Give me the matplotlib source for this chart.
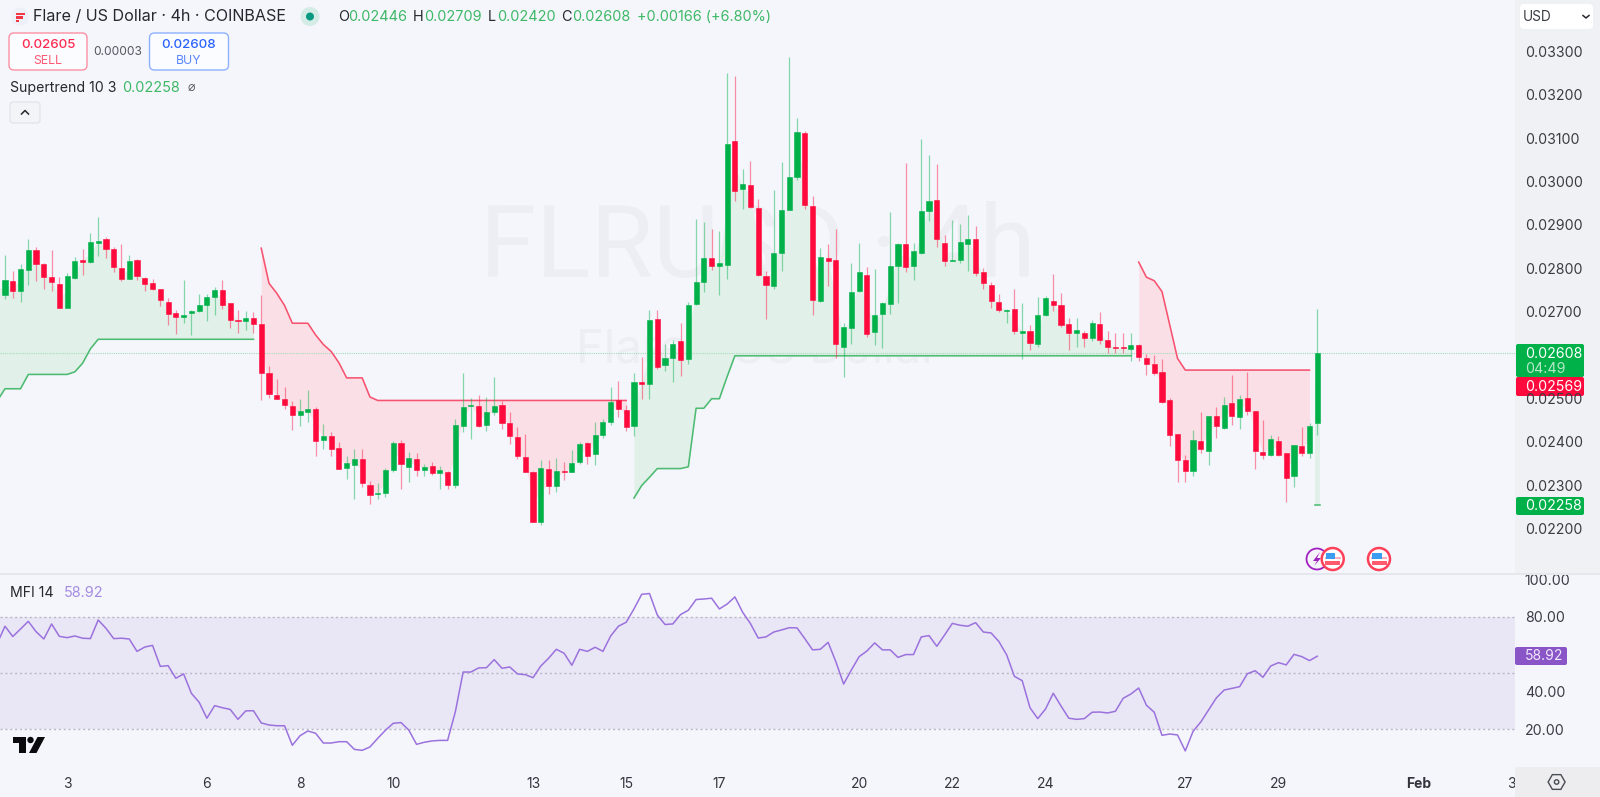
import numpy as np
import matplotlib
matplotlib.use('Agg')
import matplotlib.pyplot as plt
from matplotlib.patches import FancyBboxPatch, Circle, Rectangle, Polygon, RegularPolygon

plt.rcParams['font.family'] = ['Inter', 'DejaVu Sans']

# 4h candles, prices in units of 0.00001
opens = [2741,2775,2751,2800,2846,2814,2783,2768,2711,2782,
         2823,2817,2863,2870,2848,2805,2778,2823,2782,2770,
         2756,2725,2701,2692,2700,2706,2720,2738,2754,2723,
         2685,2681,2690,2675,2562,2512,2503,2486,2466,2473,
         2479,2408,2418,2390,2344,2351,2363,2303,2284,2286,
         2339,2402,2346,2363,2338,2347,2332,2335,2304,2440,
         2486,2487,2443,2473,2489,2447,2415,2369,2333,2218,
         2341,2301,2337,2335,2357,2401,2375,2419,2449,2499,
         2478,2440,2541,2536,2686,2580,2598,2635,2595,2722,
         2771,2828,2810,2811,3096,2986,2996,2943,2787,2763,
         2840,2939,3014,3116,2947,2729,2827,2823,2623,2667,
         2751,2788,2657,2699,2722,2809,2860,2809,2839,2935,
         2960,2863,2820,2822,2860,2872,2794,2765,2725,2706,
         2709,2655,2658,2628,2695,2729,2718,2675,2654,2655,
         2642,2676,2639,2623,2623,2617,2627,2597,2583,2564,
         2499,2421,2362,2337,2405,2383,2463,2436,2492,2460,
         2504,2474,2381,2374,2405,2377,2324,2394,2377,2446]
closes = [2777,2751,2801,2845,2813,2783,2771,2711,2786,2820,
          2819,2864,2867,2848,2807,2779,2821,2785,2767,2755,
          2730,2699,2692,2697,2706,2718,2738,2753,2720,2685,
          2681,2690,2675,2562,2515,2502,2489,2466,2474,2479,
          2406,2417,2387,2342,2354,2364,2308,2281,2286,2338,
          2400,2353,2366,2338,2345,2331,2338,2304,2443,2483,
          2488,2439,2473,2487,2447,2418,2370,2333,2218,2343,
          2301,2336,2335,2354,2398,2372,2419,2450,2496,2480,
          2438,2542,2536,2685,2577,2597,2630,2593,2718,2771,
          2828,2809,2815,3091,2981,2997,2944,2789,2764,2840,
          2938,3014,3117,2949,2730,2830,2820,2628,2668,2748,
          2794,2653,2696,2724,2809,2860,2807,2843,2935,2959,
          2872,2820,2823,2864,2872,2792,2769,2728,2707,2708,
          2658,2660,2631,2695,2734,2718,2674,2654,2661,2643,
          2678,2638,2622,2619,2620,2627,2599,2582,2562,2495,
          2420,2362,2337,2407,2387,2463,2440,2489,2463,2503,
          2474,2383,2373,2410,2373,2321,2396,2378,2441,2608]
highs = [2834,2798,2813,2872,2853,2815,2846,2784,2792,2830,
         2847,2886,2921,2875,2852,2859,2834,2824,2783,2780,
         2757,2736,2708,2777,2708,2744,2744,2760,2776,2724,
         2708,2706,2704,2741,2579,2549,2529,2497,2502,2523,
         2483,2445,2426,2404,2370,2387,2387,2314,2308,2343,
         2405,2408,2380,2377,2353,2358,2347,2337,2457,2563,
         2504,2512,2506,2553,2498,2473,2437,2422,2337,2361,
         2362,2367,2358,2384,2403,2404,2449,2456,2529,2544,
         2489,2562,2599,2708,2708,2628,2638,2678,2725,2917,
         2910,2894,2889,3253,3247,3032,3050,2963,2797,2985,
         3049,3291,3151,3119,2971,2850,2860,2895,2677,2815,
         2861,2807,2801,2725,2933,2861,3047,2861,3102,3065,
         3044,2880,2915,2906,2927,2901,2805,2771,2744,2709,
         2756,2723,2673,2738,2740,2791,2747,2688,2690,2658,
         2685,2704,2658,2655,2655,2654,2628,2606,2603,2594,
         2504,2422,2373,2431,2473,2464,2483,2506,2557,2512,
         2564,2475,2454,2420,2417,2378,2397,2437,2448,2709]
lows = [2732,2734,2727,2764,2775,2755,2751,2711,2711,2779,
        2788,2815,2832,2828,2794,2774,2778,2777,2752,2754,
        2717,2673,2652,2678,2651,2703,2683,2697,2710,2667,
        2655,2661,2654,2500,2505,2502,2480,2431,2441,2450,
        2370,2388,2370,2341,2317,2271,2299,2260,2272,2276,
        2334,2295,2312,2324,2325,2328,2294,2296,2298,2427,
        2411,2437,2428,2466,2433,2399,2364,2333,2218,2212,
        2284,2289,2316,2335,2352,2353,2351,2412,2443,2462,
        2428,2418,2503,2502,2572,2568,2542,2556,2584,2719,
        2750,2800,2741,2780,2959,2941,2943,2787,2686,2757,
        2798,2938,3006,2941,2695,2726,2763,2596,2554,2628,
        2748,2645,2627,2619,2698,2723,2795,2777,2837,2912,
        2852,2810,2820,2815,2797,2787,2755,2711,2704,2678,
        2652,2594,2615,2623,2694,2706,2669,2615,2622,2622,
        2637,2629,2609,2608,2608,2590,2591,2558,2558,2493,
        2393,2312,2312,2326,2379,2350,2413,2434,2442,2433,
        2466,2341,2364,2370,2372,2264,2300,2370,2367,2420]

# supertrend legs: first bar index, then values
st_up_a_start = -1
st_up_a = [2498] + [2526]*3 + [2559]*6 + [2565, 2585, 2618] + [2640]*21
st_down_a_start = 33
st_down_a = [2850,2769,2746,2718,2677,2677,2677,2650,2628,2612,2586,2551,2551,2551,2507] + [2499]*33
st_up_b_start = 81
st_up_b = [2274,2303,2322,2342,2342,2342,2342,2346,2481,2481,2503,2503,2554] + [2602]*52
st_down_b_start = 146
st_down_b = [2818,2783,2775,2750,2673,2596] + [2569]*17
st_up_c_start = 169
st_up_c = [2258]

# MFI, first value is the bar just off the left edge
mfi = [65.8,
       74.9,69.4,73.4,77.5,72.0,68.1,76.1,69.5,68.8,69.7,
       68.5,68.3,78.2,73.8,68.3,68.5,68.1,61.5,63.8,64.7,
       53.5,53.9,47.2,49.5,39.2,34.4,25.9,32.6,31.5,30.6,
       25.3,29.8,29.9,23.4,22.3,21.9,21.9,11.5,16.6,19.1,
       17.9,12.7,12.7,13.4,13.4,9.3,8.8,10.6,15.2,19.5,
       23.2,23.6,19.6,12.0,13.1,13.8,14.1,14.1,29.4,50.5,
       50.5,52.7,52.8,57.1,52.5,53.2,49.5,49.1,47.5,53.7,
       57.8,62.6,60.5,54.1,62.6,61.5,63.7,61.5,69.7,74.9,
       77.0,84.1,91.9,92.3,80.9,75.8,76.1,81.1,83.4,89.1,
       89.4,89.8,84.1,86.7,90.5,82.3,76.3,68.6,69.2,71.8,
       72.9,74.1,74.0,68.3,62.3,62.6,66.3,56.0,44.1,51.6,
       58.7,61.7,66.0,62.3,62.3,58.3,59.8,59.8,69.2,69.9,
       64.2,70.2,76.4,75.4,74.9,76.8,71.8,71.3,66.7,59.6,
       48.2,45.9,31.5,25.7,30.8,39.2,32.4,25.9,25.3,25.7,
       29.1,29.2,28.7,29.6,36.5,38.8,42.0,32.8,29.1,16.8,
       17.5,17.0,8.5,18.9,23.9,30.3,36.7,40.9,41.8,42.7,
       49.6,51.2,47.7,53.7,55.5,54.3,59.9,58.7,56.6,58.92]

date_ticks = [8, 26, 38, 50, 68, 80, 92, 110, 122, 134, 152, 164, 182, 194]
date_labels = ['3', '6', '8', '10', '13', '15', '17', '20', '22', '24', '27', '29', 'Feb', '3']
price_ticks = [0.022, 0.023, 0.024, 0.025, 0.026, 0.027, 0.028, 0.029, 0.030, 0.031, 0.032, 0.033]
mfi_ticks = [20, 40, 60, 80, 100]

BG = '#f4f6fc'
GREEN = '#00b14a'
RED = '#ff0a3c'
ST_GREEN = '#4dbb72'
ST_RED = '#f7526f'
FILL_GREEN = '#e2f0ea'
FILL_RED = '#fae0e6'
PURPLE = '#9b72dd'
DARK = '#26282f'
TEXT_GREEN = '#3eb866'

W, H = 1600, 797
fig = plt.figure(figsize=(W/100, H/100), dpi=100, facecolor=BG)

o = np.array(opens)*1e-5
c = np.array(closes)*1e-5
h = np.array(highs)*1e-5
l = np.array(lows)*1e-5
bars = np.arange(len(o))
mid = (o + c)/2

# x pixel = 5 + 7.765*bar
xlim = (-5/7.765, (1515 - 5)/7.765)

ax = fig.add_axes([0, 1 - 574/H, 1515/W, 574/H])
ax.set_facecolor(BG)
ax.set_xlim(xlim)
ax.set_ylim(0.02099, 0.03422)
for s in ax.spines.values():
    s.set_visible(False)
ax.set_xticks([])
ax.set_yticks([])

ax.text(0.5, 0.5174, 'FLRUSD · 4h', transform=ax.transAxes, ha='center', va='baseline',
        fontsize=73, color='#edeef3', family='Roboto', zorder=0.5)
ax.text(0.5, 0.388, 'Flare / US Dollar', transform=ax.transAxes, ha='center', va='center',
        fontsize=34, color='#edeef3', zorder=0.5)

ax.axhline(c[-1], color='#a4dcb6', lw=0.8, ls=(0, (1, 1)), zorder=1.5)

legs = [(st_up_a_start, st_up_a, ST_GREEN, FILL_GREEN),
        (st_down_a_start, st_down_a, ST_RED, FILL_RED),
        (st_up_b_start, st_up_b, ST_GREEN, FILL_GREEN),
        (st_down_b_start, st_down_b, ST_RED, FILL_RED)]
for start, vals, line_col, fill_col in legs:
    xs = np.arange(start, start + len(vals))
    ys = np.array(vals)*1e-5
    body = mid[np.clip(xs, 0, len(mid) - 1)]
    ax.fill_between(xs, ys, body, color=fill_col, lw=0, zorder=1)
    ax.plot(xs, ys, color=line_col, lw=1.15, zorder=2, solid_joinstyle='round')

# last bar's leg is one bar long
last_y = st_up_c[0]*1e-5
ax.fill_between([st_up_c_start - 0.35, st_up_c_start + 0.35], last_y, mid[-1], color=FILL_GREEN, lw=0, zorder=1)
ax.plot([st_up_c_start - 0.35, st_up_c_start + 0.35], [last_y, last_y], color=ST_GREEN, lw=1.15, zorder=2)

up = c >= o
cols = np.where(up, GREEN, RED)
ax.vlines(bars, l, h, colors=cols, lw=0.9, alpha=0.45, zorder=3)
ax.bar(bars, np.abs(c - o), bottom=np.minimum(o, c), width=0.66, color=cols,
       edgecolor=cols, lw=0.4, zorder=4)

# MFI pane
ax2 = fig.add_axes([0, 1 - 767/H, 1515/W, (767 - 574)/H])
ax2.set_facecolor(BG)
ax2.set_xlim(xlim)
ax2.set_ylim(-0.07, 102.7)
for s in ax2.spines.values():
    s.set_visible(False)
ax2.yaxis.tick_right()
ax2.set_yticks(mfi_ticks)
ax2.set_yticklabels(['%.2f' % v for v in mfi_ticks])
ax2.tick_params(axis='y', length=0, pad=7.0, labelsize=10.2, labelcolor='#3a3c44')
ax2.set_xticks(date_ticks)
ax2.set_xticklabels(date_labels)
ax2.tick_params(axis='x', length=0, pad=7.5, labelsize=10, labelcolor='#33353d')
for t in ax2.get_xticklabels():
    if t.get_text() == 'Feb':
        t.set_fontweight('bold')
ax2.axhspan(20, 80, color='#e9e6f5', lw=0, zorder=1)
for lev in (20, 50, 80):
    ax2.axhline(lev, color='#b9b8c4', lw=1, ls=(0, (1.5, 2)), zorder=1.5)
ax2.plot(np.arange(-1, len(mfi) - 1), mfi, color=PURPLE, lw=1.1, zorder=3)

# everything else sits on an overlay in pixel coordinates
ov = fig.add_axes([0, 0, 1, 1], zorder=10)
ov.set_xlim(0, W)
ov.set_ylim(H, 0)
ov.axis('off')
ov.patch.set_alpha(0)


def label(x, y, s, color=DARK, size=10, ha='left', **kw):
    ov.text(x, y, s, color=color, fontsize=size, ha=ha, va='center', **kw)


def box(x0, y0, x1, y1, fc, ec='none', r=2, lw=1):
    ov.add_patch(FancyBboxPatch((x0 + r, y0 + r), x1 - x0 - 2*r, y1 - y0 - 2*r,
                                boxstyle='round,pad=%g,rounding_size=%g' % (r, r),
                                fc=fc, ec=ec, lw=lw, mutation_aspect=1))


# price axis column
ov.add_patch(Rectangle((1515, 0), 85, 574, fc='#f0f1f4', ec='none', zorder=-1))
ov.add_patch(Rectangle((0, 573), W, 2, fc='#e6e7ed', ec='none'))
ov.add_patch(Rectangle((1515, 767), 85, 30, fc='#ededf0', ec='none'))

# price scale labels, placed from the data scale
for p in price_ticks:
    if p != 0.026:
        ypx = H - ax.transData.transform((0, p))[1]
        label(1525, ypx, '%.5f' % p, color='#3a3c44', size=10.2)

box(1520, 4, 1593, 29, '#ffffff', r=4)
label(1523, 16.5, 'USD', size=9.8, color='#3a3c44')
ov.plot([1583, 1586, 1589], [15.5, 18, 15.5], color='#26282f', lw=1.1)

box(1516, 344, 1584, 377, '#00b14a')
label(1525, 353.5, '0.02608', color='#ffffff', size=10.2)
label(1525, 368.5, '04:49', color='#b5e8c8', size=10.2)
box(1516, 377, 1584, 396, '#ff0a3c')
label(1525, 386.5, '0.02569', color='#ffffff', size=10.2)
box(1516, 497, 1584, 515, '#00b14a')
label(1525, 506, '0.02258', color='#ffffff', size=10.2)
box(1515, 647, 1567, 665, '#8a55c7')
label(1524.5, 656, '58.92', color='#f0e8fb', size=10)

# header
ov.add_patch(Circle((20, 16.5), 9, fc='#eef0f8', ec='none'))
ov.add_patch(Rectangle((16, 13), 9, 2.2, fc='#f23645', ec='none'))
ov.add_patch(Rectangle((16, 16.3), 7, 2.2, fc='#f23645', ec='none'))
ov.add_patch(Rectangle((16, 19.6), 3, 2.2, fc='#f23645', ec='none'))
label(33, 16.5, 'Flare / US Dollar · 4h · COINBASE', size=11.6)
ov.add_patch(Circle((310, 16.5), 9.5, fc='#d5ebe6', ec='none'))
ov.add_patch(Circle((310, 16.5), 4, fc='#089981', ec='none'))
for x_l, s_l, x_v, s_v in [(338, 'O', 348.5, '0.02446'), (413, 'H', 424.5, '0.02709'),
                           (488, 'L', 497.5, '0.02420'), (561, 'C', 572.5, '0.02608')]:
    label(x_l, 16.5, s_l, size=10.4)
    label(x_v, 16.5, s_v, color=TEXT_GREEN, size=10.4)
label(637, 16.5, '+0.00166 (+6.80%)', color=TEXT_GREEN, size=10.4)

box(9, 33, 87, 70, '#fbfcff', ec='#ff8fa1', r=5)
label(48, 45, '0.02605', color='#ff2a50', size=9.6, ha='center', fontweight='medium')
label(48, 60.5, 'SELL', color='#ff5a75', size=8.8, ha='center')
label(118, 52, '0.00003', color='#55575f', size=8.6, ha='center')
box(149.5, 33, 228.5, 70, '#fbfcff', ec='#8fb0ff', r=5)
label(189, 45, '0.02608', color='#2962ff', size=9.6, ha='center', fontweight='medium')
label(189, 60.5, 'BUY', color='#5b86ff', size=8.8, ha='center')

label(9.7, 88, 'Supertrend 10 3', size=10.2)
label(122.4, 88, '0.02258', color=TEXT_GREEN, size=10.4)
label(191, 88, '⌀', size=9, ha='center', color='#55575f')
box(10, 102, 40, 123, '#f3f4f8', ec='#e4e5ea', r=3)
ov.plot([21.5, 25, 28.5], [114, 110.5, 114], color='#26282f', lw=1.1)

label(9.7, 592.7, 'MFI 14', size=10.2)
label(64, 592.7, '58.92', color='#a58be0', size=10.4)

# TradingView mark
ov.add_patch(Polygon([(13, 737), (25.5, 737), (25.5, 753), (18.5, 753), (18.5, 743), (13, 743)], fc='#0b0b0e', ec='none'))
ov.add_patch(Circle((30.5, 740), 3.2, fc='#0b0b0e', ec='none'))
ov.add_patch(Polygon([(45, 737), (37.5, 737), (29, 753), (36.5, 753)], fc='#0b0b0e', ec='none'))

# event markers
ov.add_patch(Circle((1317, 559), 10.5, fc='#f6f4fb', ec='#a020c0', lw=1.3))
ov.add_patch(Polygon([(1320, 552), (1313, 561), (1317, 561), (1314, 566), (1321, 558), (1317, 558)],
                     fc='#a020c0', ec='none'))
for fx in (1332.7, 1379):
    ov.add_patch(Circle((fx, 559), 11, fc='#ffffff', ec='#ff4058', lw=1.8))
    ov.add_patch(Rectangle((fx - 8, 557), 16, 2, fc='#ffb0ba', ec='none'))
    ov.add_patch(Rectangle((fx - 7.5, 561), 15, 3.5, fc='#ff5a6e', ec='none'))
    ov.add_patch(Rectangle((fx - 7, 552.5), 9.5, 6.5, fc='#3b9df0', ec='none'))

# settings icon
ov.add_patch(RegularPolygon((1556.6, 782), 6, radius=8.5, orientation=np.pi/6, fc='none', ec='#4a4c54', lw=1))
ov.add_patch(Circle((1556.6, 782), 2.2, fc='none', ec='#4a4c54', lw=1))

fig.savefig('out.png', dpi=100, facecolor=BG)
